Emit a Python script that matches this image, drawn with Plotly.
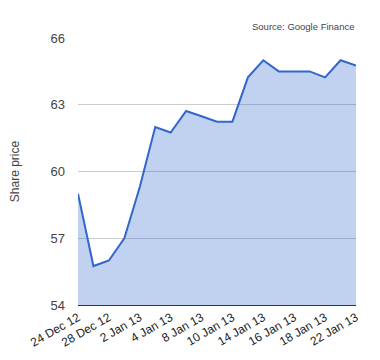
import plotly.graph_objects as go

dates = ["24 Dec 12", "27 Dec 12", "28 Dec 12", "31 Dec 12", "2 Jan 13", "3 Jan 13",
         "4 Jan 13", "7 Jan 13", "8 Jan 13", "9 Jan 13", "10 Jan 13", "11 Jan 13",
         "14 Jan 13", "15 Jan 13", "16 Jan 13", "17 Jan 13", "18 Jan 13", "21 Jan 13",
         "22 Jan 13"]
prices = [59.0, 55.75, 56.0, 57.0, 59.3, 62.0, 61.75, 62.72, 62.48, 62.24, 62.24, 64.23,
          65.0, 64.5, 64.5, 64.5, 64.23, 65.0, 64.76]
tick_labels = dates[::2]
y_ticks = [54, 57, 60, 63, 66]

font = "Arial, Liberation Sans, sans-serif"

fig = go.Figure()
fig.add_trace(go.Scatter(
    x=dates, y=prices, mode="lines",
    line=dict(color="#3366cc", width=2),
    fill="tozeroy", fillcolor="rgba(51,102,204,0.3)",
    hoverinfo="skip",
))

fig.update_layout(
    width=380, height=360,
    margin=dict(l=70, r=32, t=30, b=63),
    paper_bgcolor="white", plot_bgcolor="white",
    showlegend=False,
    font=dict(family=font, size=12, color="#444444"),
    xaxis=dict(
        type="category", range=[0, len(dates) - 1], automargin=False,
        tickmode="array", tickvals=tick_labels, ticktext=tick_labels,
        tickangle=-30, showgrid=False, showline=True, linecolor="#333333",
        linewidth=1, ticks="", tickfont=dict(size=12, color="#222222"),
    ),
    yaxis=dict(
        range=[54, 66], tickmode="array", tickvals=y_ticks, automargin=False,
        showgrid=True, gridcolor="#cccccc", gridwidth=1, zeroline=False,
        ticks="", ticklabelstandoff=12, tickfont=dict(size=13, color="#444444"),
        title=dict(text="Share price", font=dict(size=12, color="#444444"), standoff=34),
    ),
    annotations=[dict(
        text="Source: Google Finance", xref="paper", yref="paper",
        x=1, y=1, xanchor="right", yanchor="bottom", yshift=4, showarrow=False,
        font=dict(size=9.5, color="#444444"),
    )],
)

fig.write_html("out.html")
